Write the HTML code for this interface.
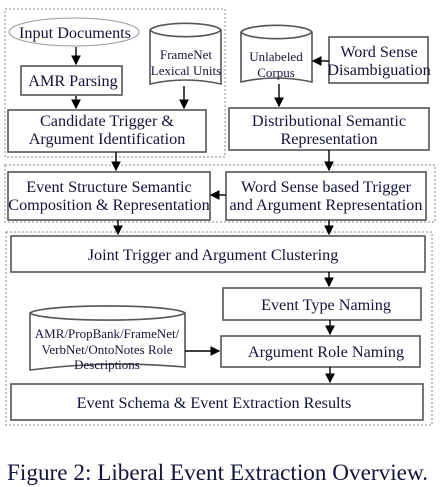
<!DOCTYPE html>
<html><head><meta charset="utf-8"><style>
body{margin:0;background:#fff;width:448px;height:487px;overflow:hidden}
svg{display:block}
text{font-family:"Liberation Serif",serif;fill:#14143a}
.b{fill:#fff;stroke:#555;stroke-width:1.6}
.d{fill:none;stroke:#888;stroke-width:1;stroke-dasharray:2,2}
.a{stroke:#000;stroke-width:1.4;fill:none}
.t{font-size:16.2px}
.s{font-size:13px}
</style></head><body>
<svg width="448" height="487" viewBox="0 0 448 487">
<defs><marker id="m" viewBox="0 0 8 8" refX="7" refY="4" markerWidth="7" markerHeight="7" orient="auto"><path d="M0,0L8,4L0,8z" fill="#000"/></marker></defs>
<rect class="d" x="5" y="9" width="220" height="148"/>
<rect class="d" x="5" y="165" width="430" height="57"/>
<rect class="d" x="6" y="232" width="426" height="193"/>

<g><ellipse cx="74" cy="32" rx="65" ry="14" fill="#fff" stroke="#999"/><text class="t" x="75" y="38" text-anchor="middle">Input Documents</text></g>
<g><rect class="b" x="21" y="66" width="101" height="29"/><text class="t" x="73" y="86" text-anchor="middle">AMR Parsing</text></g>
<g><path class="b" d="M150,30 A36,8 0 0 1 221,30 V84 Q185,76 150,84 Z"/><path class="b" d="M150,30 A36,8 0 0 0 221,30" fill="none"/><text class="s" x="186" y="59" text-anchor="middle">FrameNet</text><text class="s" x="186" y="75" text-anchor="middle">Lexical Units</text></g>
<g><rect class="b" x="8" y="110" width="198" height="42"/><text class="t" x="107" y="126" text-anchor="middle">Candidate Trigger &amp;</text><text class="t" x="107" y="144" text-anchor="middle">Argument Identification</text></g>
<g><path class="b" d="M241,32 A36,8 0 0 1 312,32 V82 Q276,74 241,82 Z"/><path class="b" d="M241,32 A36,8 0 0 0 312,32" fill="none"/><text class="s" x="276" y="61" text-anchor="middle">Unlabeled</text><text class="s" x="276" y="77" text-anchor="middle">Corpus</text></g>
<g><rect class="b" x="329" y="37" width="99" height="46"/><text class="t" x="379" y="57" text-anchor="middle">Word Sense</text><text class="t" x="379" y="75" text-anchor="middle">Disambiguation</text></g>
<g><rect class="b" x="229" y="108" width="200" height="42"/><text class="t" x="329" y="126" text-anchor="middle">Distributional Semantic</text><text class="t" x="329" y="144" text-anchor="middle">Representation</text></g>
<g><rect class="b" x="8" y="172" width="202" height="48"/><text class="t" x="109" y="192" text-anchor="middle">Event Structure Semantic</text><text class="t" x="109" y="210" text-anchor="middle">Composition &amp; Representation</text></g>
<g><rect class="b" x="226" y="172" width="200" height="48"/><text class="t" x="326" y="192" text-anchor="middle">Word Sense based Trigger</text><text class="t" x="326" y="210" text-anchor="middle">and Argument Representation</text></g>
<g><rect class="b" x="11" y="236" width="414" height="36"/><text class="t" x="213" y="260" text-anchor="middle">Joint Trigger and Argument Clustering</text></g>
<g><rect class="b" x="223" y="288" width="198" height="32"/><text class="t" x="326" y="310" text-anchor="middle">Event Type Naming</text></g>
<g><rect class="b" x="221" y="336" width="199" height="31"/><text class="t" x="326" y="357" text-anchor="middle">Argument Role Naming</text></g>
<g><path class="b" d="M30,313 A78,8 0 0 1 185,313 V367 Q107,360 30,370 Z"/><path class="b" d="M30,313 A78,8 0 0 0 185,313" fill="none"/><text class="s" x="107" y="338" text-anchor="middle">AMR/PropBank/FrameNet/</text><text class="s" x="107" y="354" text-anchor="middle">VerbNet/OntoNotes Role</text><text class="s" x="107" y="369" text-anchor="middle">Descriptions</text></g>
<g><rect class="b" x="11" y="384" width="412" height="36"/><text class="t" x="214" y="408" text-anchor="middle">Event Schema &amp; Event Extraction Results</text></g>

<g>
<line class="a" x1="76" y1="47" x2="76" y2="64" marker-end="url(#m)"/>
<line class="a" x1="76" y1="96" x2="76" y2="108" marker-end="url(#m)"/>
<line class="a" x1="184" y1="86" x2="184" y2="108" marker-end="url(#m)"/>
<line class="a" x1="329" y1="61" x2="313" y2="61" marker-end="url(#m)"/>
<line class="a" x1="279" y1="84" x2="279" y2="106" marker-end="url(#m)"/>
<line class="a" x1="116" y1="152" x2="116" y2="170" marker-end="url(#m)"/>
<line class="a" x1="329" y1="150" x2="329" y2="170" marker-end="url(#m)"/>
<line class="a" x1="226" y1="195" x2="211" y2="195" marker-end="url(#m)"/>
<line class="a" x1="118" y1="220" x2="118" y2="234" marker-end="url(#m)"/>
<line class="a" x1="329" y1="220" x2="329" y2="234" marker-end="url(#m)"/>
<line class="a" x1="329" y1="272" x2="329" y2="286" marker-end="url(#m)"/>
<line class="a" x1="330" y1="320" x2="330" y2="334" marker-end="url(#m)"/>
<line class="a" x1="185" y1="351" x2="219" y2="351" marker-end="url(#m)"/>
<line class="a" x1="330" y1="367" x2="330" y2="382" marker-end="url(#m)"/>
</g>
<text x="7" y="480" style="font-size:23px" textLength="421" lengthAdjust="spacingAndGlyphs" fill="#000">Figure 2: Liberal Event Extraction Overview.</text>
</svg>
</body></html>
